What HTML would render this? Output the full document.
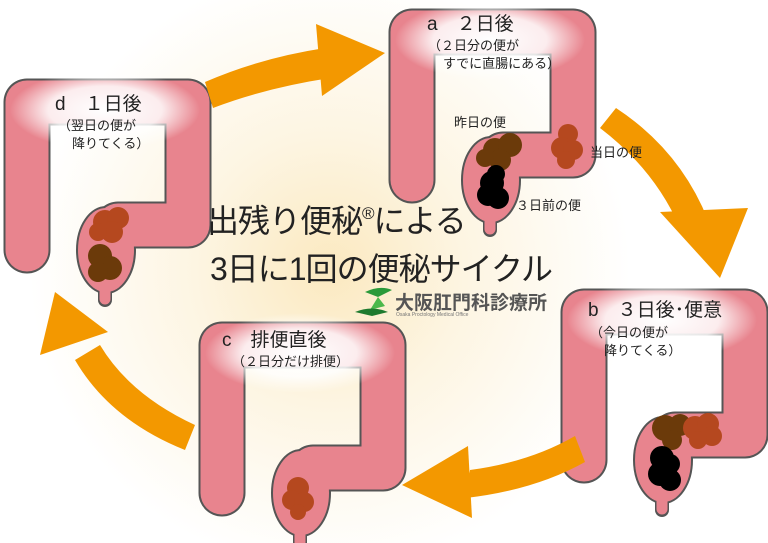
<!DOCTYPE html>
<html><head><meta charset="utf-8"><style>
html,body{margin:0;padding:0;background:#fff}
svg{display:block}
text{font-family:"Liberation Sans","Noto Sans CJK JP",sans-serif;fill:#222}
</style></head><body>
<svg width="768" height="543" viewBox="0 0 768 543" xmlns="http://www.w3.org/2000/svg">
<defs>
<radialGradient id="bg" cx="330" cy="270" r="300" gradientUnits="userSpaceOnUse">
<stop offset="0" stop-color="#fbe9c0"/><stop offset="0.45" stop-color="#fdf5e2"/><stop offset="1" stop-color="#ffffff"/>
</radialGradient>
<radialGradient id="glow"><stop offset="0" stop-color="#fff" stop-opacity="1"/><stop offset="0.6" stop-color="#fff" stop-opacity="0.85"/><stop offset="1" stop-color="#fff" stop-opacity="0"/></radialGradient>
<g id="colon">
<g fill="none" stroke-linecap="round" stroke-linejoin="round">
<path d="M27,250 L27,102 L188,102 L188,225 L118,225" stroke="#555" stroke-width="47"/>
<path d="M27,262 L27,240" stroke="#555" stroke-width="14"/>
<path d="M105,300 L105,280" stroke="#555" stroke-width="14"/>
</g>
<ellipse cx="106" cy="250" rx="29" ry="43" fill="#e8848e" stroke="#555" stroke-width="2"/>
<g fill="none" stroke-linecap="round" stroke-linejoin="round">
<path d="M27,250 L27,102 L188,102 L188,225 L118,225" stroke="#e8848e" stroke-width="43"/>
<path d="M27,261 L27,240" stroke="#e8848e" stroke-width="11"/>
<path d="M105,299 L105,285" stroke="#e8848e" stroke-width="11"/>
</g>
<ellipse cx="106" cy="250" rx="26" ry="40" fill="#e8848e"/>
<ellipse cx="105" cy="110" rx="95" ry="40" fill="url(#glow)"/>
</g>
</defs>
<rect width="768" height="543" fill="url(#bg)"/>

<use href="#colon"/>
<use href="#colon" transform="translate(385,-70)"/>
<use href="#colon" transform="translate(557,210)"/>
<use href="#colon" transform="translate(195,243)"/>

<g fill="#b5481f"><circle cx="105" cy="222" r="12"/><circle cx="118" cy="218" r="11"/><circle cx="112" cy="232" r="11"/><circle cx="98" cy="232" r="9"/></g>
<g fill="#6b3a0a"><circle cx="100" cy="256" r="12"/><circle cx="110" cy="268" r="12"/><circle cx="98" cy="272" r="10"/></g>

<g fill="#6b3a0a"><circle cx="495" cy="150" r="12"/><circle cx="510" cy="145" r="12"/><circle cx="500" cy="160" r="11"/><circle cx="485" cy="158" r="9"/></g>
<g fill="#000"><circle cx="492" cy="183" r="12"/><circle cx="488" cy="195" r="11"/><circle cx="498" cy="198" r="11"/><circle cx="496" cy="174" r="9"/></g>
<g fill="#b5481f"><circle cx="568" cy="134" r="10"/><circle cx="562" cy="148" r="11"/><circle cx="573" cy="150" r="10"/><circle cx="566" cy="160" r="9"/></g>

<g fill="#6b3a0a"><circle cx="665" cy="428" r="13"/><circle cx="680" cy="425" r="11"/><circle cx="672" cy="440" r="10"/></g>
<g fill="#b5481f"><circle cx="695" cy="428" r="12"/><circle cx="708" cy="424" r="11"/><circle cx="712" cy="436" r="10"/><circle cx="698" cy="440" r="9"/></g>
<g fill="#000"><circle cx="662" cy="458" r="12"/><circle cx="660" cy="474" r="12"/><circle cx="670" cy="480" r="11"/><circle cx="670" cy="464" r="10"/></g>

<g fill="#b5481f"><circle cx="298" cy="488" r="11"/><circle cx="292" cy="500" r="10"/><circle cx="304" cy="502" r="10"/><circle cx="298" cy="512" r="8"/></g>

<g fill="#f39800">
<path d="M205,82 Q260,58 325,48 L330,78 Q265,88 213,108 Z"/>
<path d="M316,24 L385,53 L322,96 Z"/>
<path d="M616,108 Q680,150 708,220 L680,228 Q655,170 600,128 Z"/>
<path d="M660,212 L720,278 L748,208 Z"/>
<path d="M575,436 Q530,462 470,470 L466,498 Q535,490 585,462 Z"/>
<path d="M468,446 L402,485 L472,518 Z"/>
<path d="M195,425 Q130,395 100,345 L75,360 Q110,420 185,450 Z"/>
<path d="M55,292 L40,355 L108,332 Z"/>
</g>

<text x="55" y="110" font-size="19">d　１日後</text>
<text x="58" y="130" font-size="13">（翌日の便が</text>
<text x="72" y="148" font-size="13">降りてくる）</text>

<text x="427" y="30" font-size="19">a　２日後</text>
<text x="428" y="50" font-size="13">（２日分の便が</text>
<text x="443" y="68" font-size="13">すでに直腸にある）</text>
<text x="454" y="127" font-size="13">昨日の便</text>
<text x="590" y="157" font-size="13">当日の便</text>
<text x="516" y="210" font-size="13">３日前の便</text>

<text x="588" y="316" font-size="19">b　３日後･便意</text>
<text x="590" y="337" font-size="13">（今日の便が</text>
<text x="604" y="355" font-size="13">降りてくる）</text>

<text x="222" y="346" font-size="19">c　排便直後</text>
<text x="232" y="366" font-size="13">（２日分だけ排便）</text>

<text x="207" y="232" font-size="32" style="letter-spacing:-1px">出残り便秘<tspan font-size="17" dy="-13">®</tspan><tspan dy="13">による</tspan></text>
<text x="210" y="280" font-size="32" style="letter-spacing:-1px">3日に1回の便秘サイクル</text>

<g>
<path d="M365,292 Q380,285 392,290 L378,297 Z" fill="#2a9a3a"/>
<path d="M378,297 L370,310 L385,306 Z" fill="#4cb84c"/>
<path d="M355,312 Q372,305 388,312 L372,316 Z" fill="#1e7a2e"/>
</g>
<text x="395" y="309" font-size="19" style="fill:#555;font-weight:bold">大阪肛門科診療所</text>
<text x="396" y="316" font-size="5" style="fill:#777">Osaka Proctology Medical Office</text>
</svg>
</body></html>
